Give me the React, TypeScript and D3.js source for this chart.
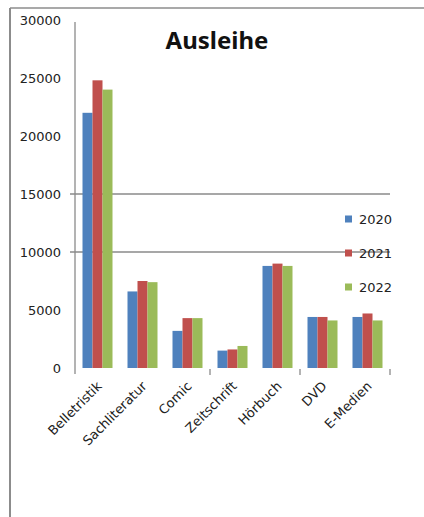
import React from "react";
import * as d3 from "d3";

const categories = ["Belletristik", "Sachliteratur", "Comic", "Zeitschrift", "Hörbuch", "DVD", "E-Medien"];
const seriesNames = ["2020", "2021", "2022"];
const values2020 = [22000, 6600, 3200, 1500, 8800, 4400, 4400];
const values2021 = [24800, 7500, 4300, 1600, 9000, 4400, 4700];
const values2022 = [24000, 7400, 4300, 1900, 8800, 4100, 4100];
const yTicks = [0, 5000, 10000, 15000, 20000, 25000, 30000];
const gridValues = [10000, 15000];
const colors = ["#4F81BD", "#C0504D", "#9BBB59"];
const title = "Ausleihe";

const W = 424;
const H = 517;

export default function App() {
  const seriesValues = [values2020, values2021, values2022];
  const x0 = d3.scaleBand<string>().domain(categories).range([75, 390]).padding(0);
  const bw = x0.bandwidth();
  const x1 = d3.scaleBand<string>().domain(seriesNames).range([bw / 6, (bw * 5) / 6]).padding(0);
  const y = d3.scaleLinear().domain([0, 30000]).range([368, 20]);
  const font = "'DejaVu Sans', sans-serif";
  const tickIdx = [3, 5, 7];

  return (
    <div style={{ position: "absolute", left: 0, top: 0 }}>
      <svg width={W} height={H} style={{ display: "block", background: "#fff" }}>
        {/* frame */}
        <line x1={10} y1={8} x2={W} y2={8} stroke="#8c8c8c" strokeWidth={1.5} />
        <line x1={10} y1={8} x2={10} y2={H} stroke="#8c8c8c" strokeWidth={2} />

        {/* title */}
        <text x={217} y={49} textAnchor="middle" fontFamily="'Noto Sans', sans-serif" fontWeight="bold" fontSize={24} fill="#111">
          {title}
        </text>

        {/* gridlines */}
        {gridValues.map((v) => (
          <line key={v} x1={70} x2={390} y1={y(v)} y2={y(v)} stroke="#8a8a8a" strokeWidth={1.3} />
        ))}

        {/* bars */}
        {categories.map((c, ci) => (
          <g key={c} transform={`translate(${x0(c)},0)`}>
            {seriesNames.map((s, si) => {
              const v = seriesValues[si][ci];
              return (
                <rect
                  key={s}
                  x={x1(s)}
                  y={y(v)}
                  width={x1.bandwidth()}
                  height={y(0) - y(v)}
                  fill={colors[si]}
                />
              );
            })}
          </g>
        ))}

        {/* y axis */}
        <line x1={75} x2={75} y1={22} y2={374} stroke="#8a8a8a" strokeWidth={1.3} />
        {yTicks.map((t) => (
          <text key={t} x={61} y={y(t)} textAnchor="end" dominantBaseline="central" fontFamily={font} fontSize={13} fill="#222">
            {t}
          </text>
        ))}

        {/* x ticks */}
        {tickIdx.map((i) => {
          const xx = 75 + i * bw;
          return <line key={i} x1={xx} x2={xx} y1={369} y2={375} stroke="#8a8a8a" strokeWidth={1.3} />;
        })}

        {/* x labels */}
        {categories.map((c) => {
          const cx = (x0(c) as number) + bw / 2 + 5;
          const cy = 387;
          return (
            <text
              key={c}
              x={cx}
              y={cy}
              textAnchor="end"
              transform={`rotate(-45,${cx},${cy})`}
              fontFamily={font}
              fontSize={13}
              fill="#222"
            >
              {c}
            </text>
          );
        })}

        {/* legend */}
        {seriesNames.map((s, i) => {
          const ly = 219 + i * 34;
          return (
            <g key={s}>
              <rect x={345} y={ly - 3.5} width={7} height={7} fill={colors[i]} />
              <text x={359} y={ly} dominantBaseline="central" fontFamily={font} fontSize={13} fill="#222">
                {s}
              </text>
            </g>
          );
        })}
      </svg>
    </div>
  );
}
